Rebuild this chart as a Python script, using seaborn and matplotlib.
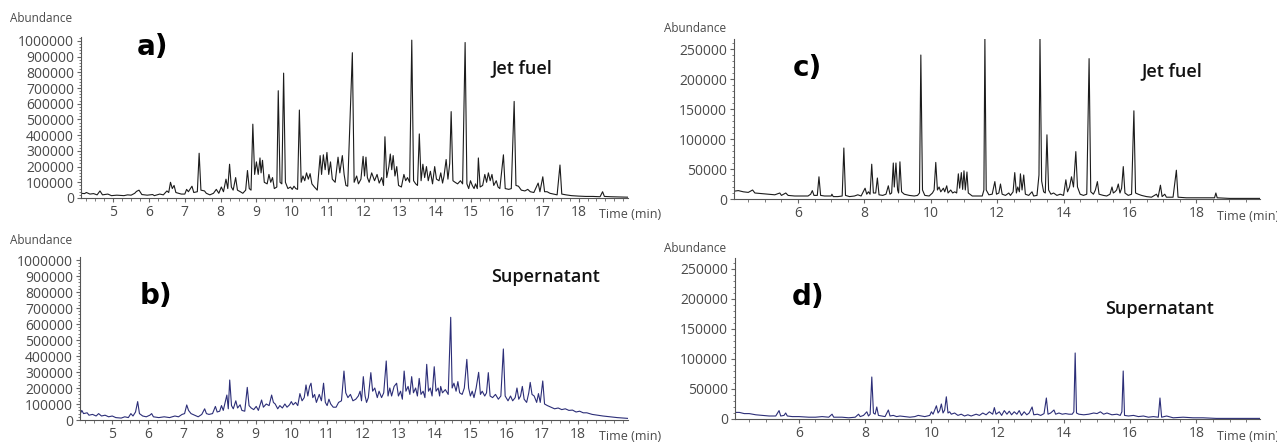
import numpy as np
import pandas as pd
import matplotlib
matplotlib.use("Agg")
import matplotlib.pyplot as plt
import seaborn as sns
from matplotlib.ticker import MultipleLocator, FormatStrFormatter

# Chromatogram traces (time in min, abundance in thousands)
a_time = [4.10, 4.20, 4.25, 4.35, 4.45, 4.55, 4.63, 4.70, 4.85, 4.95, 5.10, 5.30, 5.40, 5.50, 5.60, 5.65, 5.72, 5.80, 5.95, 6.10,
          6.15, 6.30, 6.40, 6.50, 6.55, 6.60, 6.65, 6.70, 6.75, 6.90, 7.00, 7.05, 7.10, 7.20, 7.25, 7.35, 7.40, 7.45, 7.55, 7.60,
          7.70, 7.80, 7.88, 7.95, 8.02, 8.08, 8.15, 8.20, 8.25, 8.30, 8.35, 8.42, 8.47, 8.55, 8.62, 8.70, 8.75, 8.80, 8.85, 8.90,
          8.95, 9.00, 9.05, 9.10, 9.13, 9.17, 9.22, 9.30, 9.35, 9.40, 9.45, 9.50, 9.57, 9.61, 9.66, 9.71, 9.76, 9.81, 9.88, 9.95,
          10.00, 10.05, 10.10, 10.15, 10.20, 10.25, 10.30, 10.35, 10.40, 10.45, 10.50, 10.55, 10.62, 10.70, 10.78, 10.82, 10.87, 10.92, 10.97, 11.02,
          11.07, 11.12, 11.20, 11.28, 11.33, 11.40, 11.45, 11.50, 11.55, 11.68, 11.73, 11.80, 11.85, 11.92, 11.98, 12.02, 12.06, 12.10, 12.15, 12.22,
          12.30, 12.37, 12.43, 12.50, 12.55, 12.59, 12.64, 12.70, 12.74, 12.78, 12.82, 12.87, 12.92, 12.97, 13.05, 13.12, 13.17, 13.22, 13.28, 13.34,
          13.39, 13.45, 13.50, 13.55, 13.60, 13.65, 13.70, 13.75, 13.80, 13.86, 13.92, 13.98, 14.03, 14.10, 14.15, 14.20, 14.24, 14.30, 14.35, 14.40,
          14.44, 14.49, 14.55, 14.62, 14.70, 14.76, 14.83, 14.88, 14.93, 14.98, 15.03, 15.08, 15.12, 15.17, 15.20, 15.25, 15.32, 15.38, 15.43, 15.48,
          15.53, 15.58, 15.63, 15.70, 15.75, 15.80, 15.90, 15.95, 16.05, 16.12, 16.20, 16.25, 16.32, 16.40, 16.50, 16.58, 16.65, 16.75, 16.80, 16.87,
          16.92, 17.00, 17.05, 17.12, 17.20, 17.30, 17.40, 17.48, 17.53, 17.65, 17.80, 18.00, 18.20, 18.40, 18.60, 18.67, 18.72, 18.90, 19.10, 19.40]
a_abund = [30, 28, 35, 25, 28, 20, 45, 20, 25, 15, 18, 15, 20, 18, 30, 42, 50, 22, 18, 22,
           15, 25, 20, 45, 35, 100, 60, 80, 35, 25, 25, 55, 40, 75, 35, 40, 285, 50, 45, 30,
           20, 30, 55, 30, 70, 40, 120, 60, 215, 70, 50, 130, 50, 40, 30, 50, 175, 60, 50, 470,
           150, 230, 150, 255, 160, 240, 100, 90, 150, 100, 130, 60, 70, 683, 100, 90, 795, 100, 60, 70,
           55, 75, 60, 55, 560, 100, 140, 110, 160, 120, 155, 90, 70, 50, 270, 150, 275, 180, 290, 150,
           230, 120, 100, 260, 160, 270, 150, 80, 75, 925, 100, 140, 90, 120, 265, 140, 260, 130, 100, 160,
           110, 150, 95, 130, 80, 390, 130, 200, 280, 180, 270, 140, 200, 80, 70, 150, 110, 130, 100, 1005,
           110, 90, 80, 408, 110, 215, 130, 200, 110, 170, 90, 200, 120, 110, 160, 95, 140, 245, 120, 220,
           550, 110, 100, 90, 110, 90, 990, 90, 60, 110, 80, 60, 90, 60, 255, 70, 80, 150, 100, 160,
           110, 150, 80, 110, 70, 60, 275, 60, 55, 60, 615, 80, 75, 50, 45, 55, 40, 35, 60, 95,
           40, 135, 40, 40, 30, 25, 20, 210, 25, 20, 15, 12, 10, 10, 8, 40, 10, 8, 7, 5]

b_time = [4.10, 4.15, 4.20, 4.30, 4.35, 4.45, 4.55, 4.62, 4.70, 4.80, 4.90, 5.00, 5.10, 5.25, 5.35, 5.45, 5.52, 5.58, 5.65, 5.71,
          5.76, 5.85, 5.95, 6.05, 6.10, 6.15, 6.30, 6.45, 6.60, 6.75, 6.85, 6.95, 7.02, 7.08, 7.13, 7.20, 7.30, 7.40, 7.50, 7.58,
          7.63, 7.70, 7.80, 7.88, 7.93, 8.00, 8.05, 8.10, 8.20, 8.24, 8.28, 8.33, 8.38, 8.45, 8.50, 8.57, 8.62, 8.70, 8.77, 8.82,
          8.88, 8.95, 9.02, 9.08, 9.17, 9.22, 9.30, 9.38, 9.45, 9.50, 9.55, 9.62, 9.68, 9.75, 9.82, 9.88, 9.95, 10.00, 10.05, 10.12,
          10.18, 10.24, 10.30, 10.36, 10.41, 10.46, 10.51, 10.55, 10.60, 10.65, 10.70, 10.78, 10.84, 10.90, 10.95, 11.00, 11.05, 11.10, 11.17, 11.25,
          11.32, 11.40, 11.47, 11.52, 11.58, 11.65, 11.72, 11.80, 11.87, 11.92, 11.96, 12.01, 12.06, 12.10, 12.15, 12.22, 12.27, 12.33, 12.40, 12.45,
          12.52, 12.58, 12.65, 12.70, 12.75, 12.80, 12.87, 12.94, 12.99, 13.05, 13.10, 13.15, 13.20, 13.26, 13.31, 13.36, 13.41, 13.47, 13.52, 13.57,
          13.62, 13.68, 13.73, 13.78, 13.83, 13.88, 13.93, 13.99, 14.04, 14.10, 14.14, 14.17, 14.22, 14.30, 14.38, 14.45, 14.49, 14.54, 14.60, 14.65,
          14.70, 14.77, 14.83, 14.90, 14.95, 15.00, 15.05, 15.10, 15.16, 15.23, 15.28, 15.33, 15.40, 15.45, 15.50, 15.55, 15.62, 15.70, 15.78, 15.85,
          15.92, 15.97, 16.05, 16.12, 16.18, 16.25, 16.30, 16.35, 16.40, 16.45, 16.50, 16.57, 16.63, 16.67, 16.72, 16.78, 16.85, 16.90, 16.95, 17.02,
          17.07, 17.15, 17.25, 17.35, 17.45, 17.55, 17.65, 17.75, 17.85, 17.95, 18.05, 18.15, 18.25, 18.40, 18.55, 18.70, 18.90, 19.10, 19.40]
b_abund = [35, 60, 40, 45, 30, 35, 25, 40, 25, 30, 20, 25, 15, 12, 20, 15, 40, 25, 50, 115,
           40, 25, 20, 30, 40, 20, 15, 20, 15, 25, 20, 35, 40, 94, 60, 40, 30, 20, 35, 70,
           40, 35, 40, 85, 50, 55, 90, 60, 156, 70, 250, 90, 70, 120, 75, 95, 60, 55, 204, 90,
           75, 65, 85, 60, 125, 80, 100, 90, 156, 110, 100, 70, 90, 75, 100, 80, 95, 115, 95, 110,
           90, 165, 120, 140, 219, 150, 210, 230, 140, 160, 110, 160, 120, 230, 110, 90, 130, 100, 80, 80,
           110, 120, 306, 170, 140, 160, 120, 130, 150, 180, 120, 271, 150, 110, 140, 296, 180, 200, 140, 180,
           140, 170, 369, 150, 200, 150, 210, 230, 150, 180, 130, 306, 180, 210, 160, 271, 170, 200, 150, 260,
           160, 180, 140, 348, 180, 200, 150, 333, 180, 200, 150, 210, 170, 190, 160, 642, 200, 230, 180, 240,
           170, 160, 200, 379, 200, 150, 180, 140, 200, 298, 160, 180, 150, 170, 296, 150, 140, 160, 130, 150,
           444, 150, 120, 150, 120, 140, 200, 130, 150, 210, 130, 110, 170, 235, 160, 150, 110, 165, 110, 244,
           100, 90, 80, 70, 75, 65, 70, 60, 62, 50, 55, 45, 45, 35, 30, 25, 20, 15, 10]

c_time = [4.07, 4.20, 4.35, 4.50, 4.63, 4.70, 4.90, 5.10, 5.30, 5.45, 5.50, 5.63, 5.70, 5.90, 6.10, 6.30, 6.38, 6.43, 6.48, 6.58,
          6.63, 6.68, 6.80, 7.00, 7.02, 7.06, 7.20, 7.33, 7.38, 7.43, 7.55, 7.70, 7.80, 7.90, 8.02, 8.07, 8.12, 8.17, 8.22, 8.27,
          8.34, 8.39, 8.44, 8.55, 8.65, 8.72, 8.77, 8.82, 8.87, 8.90, 8.95, 9.00, 9.03, 9.07, 9.12, 9.20, 9.35, 9.50, 9.60, 9.66,
          9.70, 9.75, 9.82, 9.95, 10.05, 10.10, 10.15, 10.20, 10.25, 10.30, 10.38, 10.42, 10.48, 10.52, 10.60, 10.66, 10.72, 10.78, 10.83, 10.87,
          10.92, 10.96, 11.00, 11.04, 11.09, 11.13, 11.25, 11.40, 11.55, 11.60, 11.63, 11.67, 11.75, 11.85, 11.93, 11.98, 12.05, 12.10, 12.15, 12.25,
          12.35, 12.40, 12.48, 12.53, 12.58, 12.62, 12.67, 12.70, 12.75, 12.80, 12.85, 12.95, 13.05, 13.10, 13.20, 13.26, 13.29, 13.34, 13.40, 13.45,
          13.50, 13.55, 13.62, 13.70, 13.80, 13.90, 14.00, 14.07, 14.12, 14.18, 14.24, 14.30, 14.37, 14.42, 14.50, 14.60, 14.70, 14.77, 14.82, 14.90,
          14.96, 15.02, 15.07, 15.20, 15.30, 15.40, 15.46, 15.50, 15.55, 15.60, 15.65, 15.70, 15.75, 15.80, 15.85, 15.95, 16.05, 16.12, 16.17, 16.25,
          16.35, 16.50, 16.65, 16.80, 16.85, 16.92, 16.97, 17.05, 17.10, 17.30, 17.40, 17.45, 17.70, 18.00, 18.30, 18.55, 18.59, 18.63, 19.00, 19.50, 19.95]
c_abund = [13, 14, 12, 11, 15, 10, 9, 8, 7, 10, 6, 10, 6, 5, 5, 5, 8, 14, 6, 6,
           37, 6, 5, 5, 8, 4, 4, 5, 85, 6, 4, 5, 7, 5, 18, 8, 12, 8, 58, 10,
           10, 35, 7, 6, 8, 22, 8, 10, 60, 20, 60, 15, 10, 62, 12, 8, 6, 5, 6, 10,
           240, 15, 6, 5, 10, 15, 61, 15, 20, 12, 18, 12, 22, 10, 15, 10, 12, 10, 42, 18,
           44, 16, 47, 15, 45, 10, 5, 5, 5, 15, 268, 15, 7, 8, 29, 8, 10, 25, 8, 6,
           10, 6, 12, 44, 10, 20, 12, 42, 15, 40, 8, 6, 12, 5, 6, 40, 270, 30, 12, 10,
           107, 15, 8, 10, 6, 8, 6, 32, 12, 20, 37, 20, 79, 20, 8, 6, 8, 234, 12, 8,
           15, 29, 8, 6, 5, 8, 20, 10, 12, 15, 25, 10, 18, 54, 10, 6, 8, 147, 10, 8,
           6, 4, 3, 8, 3, 23, 4, 8, 3, 3, 48, 3, 2, 2, 2, 2, 10, 2, 1, 1, 1]

d_time = [4.07, 4.20, 4.35, 4.50, 4.70, 4.90, 5.10, 5.30, 5.40, 5.45, 5.55, 5.60, 5.65, 5.80, 6.00, 6.30, 6.50, 6.70, 6.90, 7.00,
          7.05, 7.30, 7.50, 7.70, 7.80, 7.85, 7.95, 8.05, 8.10, 8.15, 8.20, 8.25, 8.30, 8.35, 8.40, 8.50, 8.60, 8.70, 8.75, 8.85,
          8.95, 9.05, 9.20, 9.35, 9.50, 9.60, 9.70, 9.80, 9.95, 10.00, 10.05, 10.10, 10.15, 10.20, 10.25, 10.30, 10.35, 10.40, 10.45, 10.50,
          10.55, 10.60, 10.70, 10.80, 10.90, 11.00, 11.10, 11.20, 11.35, 11.45, 11.55, 11.65, 11.75, 11.85, 11.90, 11.95, 12.05, 12.12, 12.20, 12.28,
          12.35, 12.42, 12.50, 12.58, 12.65, 12.72, 12.80, 12.88, 12.95, 13.04, 13.09, 13.20, 13.30, 13.40, 13.47, 13.52, 13.60, 13.70, 13.75, 13.85,
          13.95, 14.05, 14.15, 14.25, 14.30, 14.34, 14.38, 14.45, 14.60, 14.75, 14.90, 15.00, 15.10, 15.20, 15.30, 15.45, 15.60, 15.70, 15.75, 15.79,
          15.83, 15.95, 16.10, 16.25, 16.40, 16.55, 16.70, 16.85, 16.90, 16.95, 17.10, 17.30, 17.60, 17.90, 18.20, 18.60, 19.20, 19.95]
d_abund = [11, 11, 9, 9, 7, 6, 5, 5, 14, 5, 6, 10, 5, 4, 4, 3, 3, 4, 3, 8,
           3, 3, 2, 3, 8, 4, 6, 12, 5, 8, 70, 10, 8, 20, 6, 5, 4, 15, 5, 6,
           4, 5, 4, 3, 4, 6, 5, 4, 6, 12, 8, 15, 22, 10, 14, 25, 10, 15, 37, 10,
           12, 8, 10, 6, 8, 5, 7, 5, 8, 6, 10, 7, 12, 8, 19, 8, 12, 6, 14, 8,
           13, 7, 12, 8, 14, 6, 12, 7, 10, 20, 7, 8, 6, 9, 35, 8, 10, 15, 8, 10,
           8, 9, 8, 8, 12, 110, 10, 8, 7, 8, 10, 9, 12, 8, 10, 7, 8, 6, 12, 80,
           6, 5, 6, 4, 5, 3, 4, 3, 35, 3, 5, 2, 3, 2, 2, 1, 1, 1]

panel_letters = ["a)", "b)", "c)", "d)"]
sample_names = ["Jet fuel", "Supernatant", "Jet fuel", "Supernatant"]

W, H = 1277, 446
black_line = "#1c1c1c"
blue_line = "#2c2e78"
tick_grey = "#4a4a4a"

sns.set_style("ticks")
plt.rcParams["font.family"] = ["Open Sans", "DejaVu Sans"]

fig = plt.figure(figsize=(W / 100, H / 100), dpi=100)


def px_box(x0, y_top, x1, y_bot):
    return [x0 / W, 1 - y_bot / H, (x1 - x0) / W, (y_bot - y_top) / H]


panels = [
    dict(t=a_time, y=a_abund, box=px_box(81, 37, 628, 198), xlim=(4.10, 19.38), ylim=(0, 1025000),
         ymaj=100000, ymin=20000, xmaj=1, xmin=0.25, xt=range(5, 19), color=black_line,
         abund=(10, 19), time=(599, 215), letter=(152, 47), name=(522, 68)),
    dict(t=b_time, y=b_abund, box=px_box(80, 257, 628, 420), xlim=(4.10, 19.40), ylim=(0, 1019000),
         ymaj=100000, ymin=20000, xmaj=1, xmin=0.25, xt=range(5, 19), color=blue_line,
         abund=(10, 241), time=(599, 436), letter=(156, 296), name=(546, 277)),
    dict(t=c_time, y=c_abund, box=px_box(734, 39, 1260, 199), xlim=(4.07, 19.92), ylim=(0, 266700),
         ymaj=50000, ymin=10000, xmaj=2, xmin=0.5, xt=range(6, 19, 2), color=black_line,
         abund=(664, 28), time=(1217, 216), letter=(807, 68), name=(1172, 71)),
    dict(t=d_time, y=d_abund, box=px_box(735, 258, 1260, 419), xlim=(4.07, 19.92), ylim=(0, 268300),
         ymaj=50000, ymin=10000, xmaj=2, xmin=0.5, xt=range(6, 19, 2), color=blue_line,
         abund=(664, 249), time=(1217, 437), letter=(808, 297), name=(1160, 309)),
]

for p, letter, name in zip(panels, panel_letters, sample_names):
    ax = fig.add_axes(p["box"])
    df = pd.DataFrame({"time": p["t"], "abundance": np.array(p["y"]) * 1000})
    sns.lineplot(data=df, x="time", y="abundance", ax=ax, color=p["color"],
                 linewidth=0.8, estimator=None, sort=False)
    ax.set_xlim(*p["xlim"])
    ax.set_ylim(*p["ylim"])
    ax.set_xlabel("")
    ax.set_ylabel("")
    ax.set_xticks(list(p["xt"]))
    ax.xaxis.set_minor_locator(MultipleLocator(p["xmin"]))
    ax.yaxis.set_major_locator(MultipleLocator(p["ymaj"]))
    ax.yaxis.set_minor_locator(MultipleLocator(p["ymin"]))
    ax.yaxis.set_major_formatter(FormatStrFormatter("%d"))
    ax.tick_params(axis="both", which="major", labelsize=10, colors="#666666",
                   labelcolor=tick_grey, length=3, width=0.8, pad=2)
    ax.tick_params(axis="both", which="minor", length=1.8, width=0.6, colors="#666666")
    for side in ["top", "right"]:
        ax.spines[side].set_visible(False)
    for side in ["left", "bottom"]:
        ax.spines[side].set_color("#555555")
        ax.spines[side].set_linewidth(0.8)

    fig.text(p["abund"][0] / W, 1 - p["abund"][1] / H, "Abundance", fontsize=8.5,
             color=tick_grey, ha="left", va="center")
    fig.text(p["time"][0] / W, 1 - p["time"][1] / H, "Time (min)", fontsize=9,
             color=tick_grey, ha="left", va="center")
    fig.text(p["letter"][0] / W, 1 - p["letter"][1] / H, letter, fontsize=20,
             fontweight="heavy", family="DejaVu Sans", color="black", ha="center", va="center")
    fig.text(p["name"][0] / W, 1 - p["name"][1] / H, name, fontsize=13,
             fontweight="semibold", color="#111111", ha="center", va="center")

fig.savefig("out.png", dpi=100)
